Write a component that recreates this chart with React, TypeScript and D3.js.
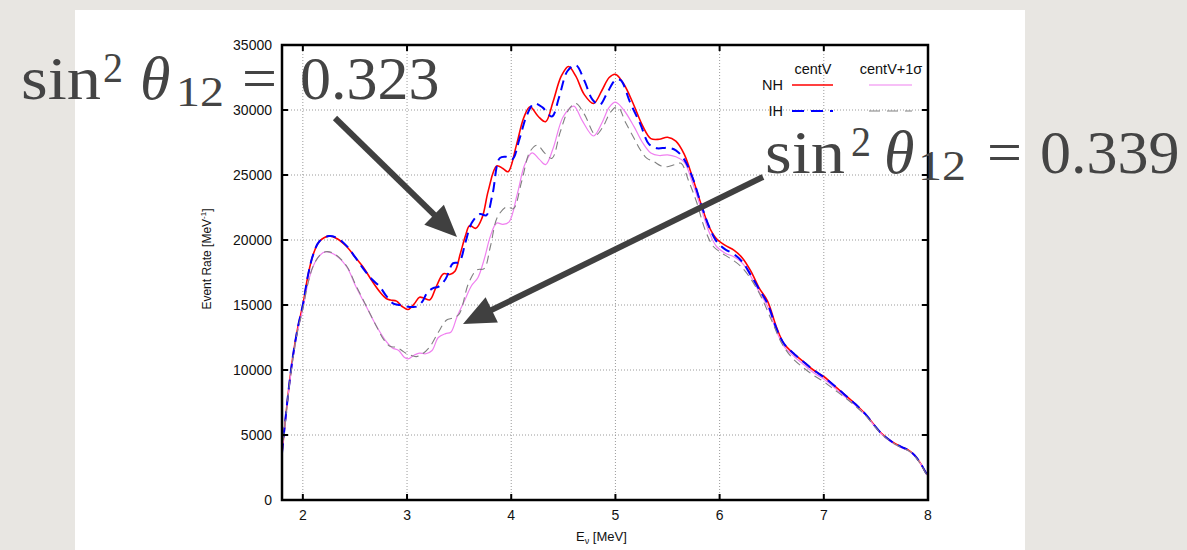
import React from "react";
import * as d3 from "d3";

const xTicks = [2, 3, 4, 5, 6, 7, 8];
const yTicks = [0, 5000, 10000, 15000, 20000, 25000, 30000, 35000];

const nhCentV: [number, number][] = [
  [1.8, 3600], [1.85, 7500], [1.9, 10800], [1.95, 13200], [2.0, 15000], [2.05, 17300], [2.1, 18900],
  [2.16, 19900], [2.25, 20300], [2.33, 20100], [2.42, 19500], [2.5, 18700], [2.58, 17900], [2.66, 16900],
  [2.74, 16000], [2.8, 15500], [2.84, 15380], [2.9, 15300], [2.95, 14900], [3.01, 14650], [3.07, 15100],
  [3.12, 15600], [3.17, 15500], [3.22, 15400], [3.28, 16400], [3.35, 17400], [3.41, 17350], [3.46, 17600],
  [3.51, 18900], [3.56, 20300], [3.6, 21100], [3.66, 20900], [3.72, 21700], [3.78, 23800], [3.86, 25700],
  [3.92, 25500], [3.97, 25250], [4.05, 27300], [4.12, 29400], [4.18, 30250], [4.26, 29500], [4.33, 29100],
  [4.4, 30600], [4.48, 32600], [4.55, 33350], [4.62, 32600], [4.7, 31200], [4.79, 30500], [4.87, 31500],
  [4.94, 32500], [5.0, 32750], [5.08, 32000], [5.17, 30500], [5.26, 28800], [5.34, 27800], [5.42, 27750],
  [5.5, 27900], [5.58, 27600], [5.66, 26600], [5.74, 24800], [5.82, 22800], [5.9, 21000], [5.97, 20100],
  [6.05, 19600], [6.14, 19200], [6.22, 18600], [6.3, 17600], [6.38, 16300], [6.46, 15300], [6.55, 13200],
  [6.62, 12000], [6.72, 11200], [6.81, 10600], [6.9, 10000], [7.0, 9500], [7.1, 8800], [7.2, 8100],
  [7.3, 7400], [7.4, 6600], [7.5, 5600], [7.55, 5150], [7.65, 4500], [7.74, 4100], [7.82, 3800],
  [7.87, 3450], [7.93, 2800], [7.98, 2100], [8.0, 1900],
];

const ihCentV: [number, number][] = [
  [1.8, 3600], [1.85, 7500], [1.9, 10800], [1.95, 13200], [2.0, 15000], [2.05, 17300], [2.1, 18900],
  [2.16, 19900], [2.25, 20300], [2.33, 20150], [2.42, 19550], [2.5, 18700], [2.58, 17800], [2.66, 17000],
  [2.74, 16400], [2.8, 15700], [2.87, 15100], [2.93, 15000], [2.99, 14900], [3.05, 14850], [3.1, 14900],
  [3.15, 15300], [3.19, 15900], [3.25, 16300], [3.3, 16400], [3.37, 17000], [3.44, 18200], [3.5, 18300],
  [3.56, 19800], [3.62, 21300], [3.7, 22000], [3.76, 21900], [3.82, 23500], [3.89, 26300], [3.95, 26400],
  [4.01, 26200], [4.08, 27800], [4.15, 29600], [4.22, 30500], [4.3, 30200], [4.39, 29500], [4.46, 31000],
  [4.54, 33000], [4.62, 33450], [4.7, 32300], [4.78, 30800], [4.85, 30400], [4.92, 31300], [5.0, 32300],
  [5.05, 32300], [5.14, 30600], [5.24, 28900], [5.32, 27400], [5.4, 27050], [5.5, 27100], [5.58, 26900],
  [5.66, 26200], [5.74, 24800], [5.82, 22800], [5.9, 21000], [5.97, 19900], [6.05, 19300], [6.14, 18900],
  [6.22, 18300], [6.3, 17300], [6.38, 16200], [6.46, 15100], [6.55, 13100], [6.62, 12000], [6.72, 11200],
  [6.81, 10600], [6.9, 10000], [7.0, 9450], [7.1, 8800], [7.2, 8100], [7.3, 7400], [7.4, 6600],
  [7.5, 5600], [7.55, 5150], [7.65, 4500], [7.74, 4100], [7.82, 3800], [7.87, 3450], [7.93, 2800],
  [7.98, 2100], [8.0, 1900],
];

const nhSigma: [number, number][] = [
  [1.8, 3600], [1.85, 7400], [1.9, 10600], [1.95, 13000], [2.0, 14700], [2.05, 16700], [2.1, 18000],
  [2.16, 18800], [2.22, 19100], [2.3, 18900], [2.42, 17950], [2.51, 16400], [2.61, 14870], [2.71, 13330],
  [2.8, 12200], [2.86, 11700], [2.92, 11500], [2.97, 11000], [3.01, 10850], [3.07, 11150], [3.12, 11300],
  [3.18, 11250], [3.24, 11500], [3.3, 12500], [3.37, 12800], [3.42, 12900], [3.48, 14100], [3.55, 15300],
  [3.62, 16500], [3.68, 17100], [3.74, 18500], [3.8, 20300], [3.86, 21300], [3.92, 21200], [3.98, 21400],
  [4.06, 23600], [4.13, 25800], [4.2, 26700], [4.27, 26200], [4.33, 25800], [4.4, 27000], [4.5, 29500],
  [4.6, 30300], [4.68, 29200], [4.79, 28000], [4.87, 29000], [4.94, 30200], [5.0, 30600], [5.08, 30000],
  [5.18, 28700], [5.26, 27500], [5.34, 26700], [5.42, 26500], [5.5, 26550], [5.58, 26400], [5.66, 26000],
  [5.74, 24400], [5.82, 22500], [5.9, 20600], [5.97, 19500], [6.05, 19000], [6.14, 18700], [6.22, 18200],
  [6.3, 17200], [6.38, 16000], [6.46, 14900], [6.55, 12900], [6.62, 11800], [6.72, 11000], [6.81, 10400],
  [6.9, 9800], [7.0, 9300], [7.1, 8650], [7.2, 7950], [7.3, 7300], [7.4, 6550], [7.5, 5550], [7.55, 5100],
  [7.65, 4450], [7.74, 4050], [7.82, 3750], [7.87, 3420], [7.93, 2780], [7.98, 2080], [8.0, 1880],
];

const ihSigma: [number, number][] = [
  [1.8, 3600], [1.85, 7400], [1.9, 10600], [1.95, 13000], [2.0, 14700], [2.05, 16700], [2.1, 18000],
  [2.16, 18800], [2.22, 19100], [2.3, 18950], [2.42, 18000], [2.51, 16500], [2.61, 14900], [2.71, 13300],
  [2.78, 12300], [2.84, 11800], [2.9, 11750], [2.95, 11500], [2.99, 11280], [3.05, 11100], [3.09, 11030],
  [3.15, 11250], [3.22, 11800], [3.3, 12900], [3.38, 13850], [3.44, 14000], [3.5, 14300], [3.59, 16670],
  [3.67, 17700], [3.74, 17800], [3.8, 19500], [3.87, 21800], [3.96, 22560], [4.02, 22400], [4.1, 24500],
  [4.18, 26800], [4.25, 27300], [4.32, 26700], [4.39, 26280], [4.47, 28300], [4.55, 30000], [4.62, 30500],
  [4.7, 29700], [4.81, 28080], [4.88, 28700], [4.95, 29800], [5.02, 30260], [5.1, 29000], [5.18, 27800],
  [5.24, 26920], [5.3, 26300], [5.37, 26020], [5.44, 25700], [5.5, 25640], [5.57, 25800], [5.63, 25900],
  [5.7, 24600], [5.78, 22900], [5.86, 20800], [5.94, 19500], [6.02, 19000], [6.1, 18600], [6.2, 18000],
  [6.3, 17000], [6.4, 15600], [6.5, 13800], [6.6, 12000], [6.7, 10900], [6.8, 10200], [6.9, 9600],
  [7.0, 9100], [7.1, 8500], [7.2, 7900], [7.3, 7250], [7.4, 6500], [7.5, 5550], [7.55, 5100], [7.65, 4450],
  [7.74, 4050], [7.82, 3750], [7.87, 3400], [7.93, 2750], [7.98, 2050], [8.0, 1850],
];

const W = 1187;
const H = 550;
const L = 282, R = 928, T = 45, B = 500;

const x = d3.scaleLinear().domain([1.8, 8]).range([L, R]);
const y = d3.scaleLinear().domain([0, 35000]).range([B, T]);
const line = d3
  .line<[number, number]>()
  .x((d) => x(d[0]))
  .y((d) => y(d[1]))
  .curve(d3.curveCatmullRom.alpha(0.5));

const TXT = "#444";
const ARROW = "#404040";
const SANS = "'Liberation Sans', Arial, Helvetica, sans-serif";
const SERIF = "'Liberation Serif', 'Times New Roman', serif";

function Arrow({ x1, y1, x2, y2 }: { x1: number; y1: number; x2: number; y2: number }) {
  const dx = x2 - x1, dy = y2 - y1;
  const len = Math.hypot(dx, dy);
  const ux = dx / len, uy = dy / len;
  const hl = 32, hw = 14;
  const bx = x2 - ux * hl, by = y2 - uy * hl;
  const px = -uy, py = ux;
  const pts = [
    [x2, y2],
    [bx + px * hw, by + py * hw],
    [bx - px * hw, by - py * hw],
  ];
  return (
    <g>
      <line x1={x1} y1={y1} x2={bx + ux * 4} y2={by + uy * 4} stroke={ARROW} strokeWidth={6} />
      <polygon points={pts.map((p) => p.join(",")).join(" ")} fill={ARROW} />
    </g>
  );
}

function Formula({ base, value, pos }: { base: number; value: string; pos: number[] }) {
  // pos: [sinX, supX, thetaX, subX, eqX, numX]
  return (
    <g fill={TXT} fontFamily={SERIF}>
      <text x={pos[0]} y={base} fontSize={62} textLength={80} lengthAdjust="spacingAndGlyphs">sin</text>
      <text x={pos[1]} y={base - 17} fontSize={42} textLength={20} lengthAdjust="spacingAndGlyphs">2</text>
      <text x={pos[2]} y={base} fontSize={62} fontStyle="italic">θ</text>
      <text x={pos[3]} y={base + 7} fontSize={42} textLength={48} lengthAdjust="spacingAndGlyphs">12</text>
      <text x={pos[4]} y={base} fontSize={62}>=</text>
      <text x={pos[5]} y={base} fontSize={62}>{value}</text>
    </g>
  );
}

export default function App() {
  const gridX = xTicks.filter((t) => t < 8);
  const gridY = yTicks.filter((t) => t > 0 && t < 35000);
  return (
    <svg width={W} height={H} style={{ position: "absolute", left: 0, top: 0 }}>
      <rect x={0} y={0} width={W} height={H} fill="#e8e6e2" />
      <rect x={75} y={10} width={950} height={540} fill="#ffffff" />
      <defs>
        <clipPath id="plot">
          <rect x={L} y={T} width={R - L} height={B - T} />
        </clipPath>
      </defs>
      <g stroke="#9a9a9a" strokeWidth={1} strokeDasharray="1,2">
        {gridX.map((t) => (
          <line key={"gx" + t} x1={x(t)} x2={x(t)} y1={T} y2={B} />
        ))}
        {gridY.map((t) => (
          <line key={"gy" + t} x1={L} x2={R} y1={y(t)} y2={y(t)} />
        ))}
      </g>
      <g clipPath="url(#plot)" fill="none">
        <path d={line(nhCentV) || ""} stroke="#ff0000" strokeWidth={1.6} />
        <path d={line(nhSigma) || ""} stroke="#f080f0" strokeWidth={1.2} />
        <path d={line(ihCentV) || ""} stroke="#0000ff" strokeWidth={2} strokeDasharray="10,6" />
        <path d={line(ihSigma) || ""} stroke="#808080" strokeWidth={1.1} strokeDasharray="8,5" />
      </g>
      <g stroke="#000" strokeWidth={2}>
        {xTicks.map((t) => (
          <g key={"tx" + t}>
            <line x1={x(t)} x2={x(t)} y1={B} y2={B - 6} />
            <line x1={x(t)} x2={x(t)} y1={T} y2={T + 6} />
          </g>
        ))}
        {yTicks.map((t) => (
          <g key={"ty" + t}>
            <line x1={L} x2={L + 6} y1={y(t)} y2={y(t)} />
            <line x1={R} x2={R - 6} y1={y(t)} y2={y(t)} />
          </g>
        ))}
      </g>
      <rect x={L} y={T} width={R - L} height={B - T} fill="none" stroke="#000" strokeWidth={2.5} />
      <g fontFamily={SANS} fontSize={14} fill="#111">
        {xTicks.map((t) => (
          <text key={"lx" + t} x={x(t)} y={520} textAnchor="middle">{t}</text>
        ))}
        {yTicks.map((t) => (
          <text key={"ly" + t} x={L - 10} y={y(t) + 5} textAnchor="end">{t}</text>
        ))}
      </g>
      <text x={576} y={541} fontFamily={SANS} fontSize={13} fill="#111">
        E<tspan fontSize={9} dy={3}>ν</tspan>
        <tspan dy={-3}> [MeV]</tspan>
      </text>
      <text transform="translate(211,259) rotate(-90)" textAnchor="middle" fontFamily={SANS} fontSize={12} fill="#111">
        Event Rate [MeV<tspan fontSize={8} dy={-5}>-1</tspan>
        <tspan dy={5}>]</tspan>
      </text>
      <g fontFamily={SANS} fontSize={14.5} fill="#111">
        <text x={813} y={74} textAnchor="middle">centV</text>
        <text x={891} y={74} textAnchor="middle">centV+1σ</text>
        <text x={783} y={90} textAnchor="end">NH</text>
        <text x={783} y={116} textAnchor="end">IH</text>
      </g>
      <line x1={792} x2={833} y1={85} y2={85} stroke="#ff0000" strokeWidth={1.6} />
      <line x1={869} x2={912} y1={85} y2={85} stroke="#f080f0" strokeWidth={1.2} />
      <line x1={792} x2={833} y1={111} y2={111} stroke="#0000ff" strokeWidth={2} strokeDasharray="12,7" />
      <line x1={869} x2={912} y1={111} y2={111} stroke="#808080" strokeWidth={1.1} strokeDasharray="11,7" />
      <Arrow x1={335} y1={118} x2={457} y2={237} />
      <Arrow x1={763} y1={177} x2={463} y2={324} />
      <Formula base={99} value="0.323" pos={[21, 103, 140, 176, 242, 300]} />
      <Formula base={173} value="0.339" pos={[765, 851, 884, 918, 987, 1040]} />
    </svg>
  );
}
